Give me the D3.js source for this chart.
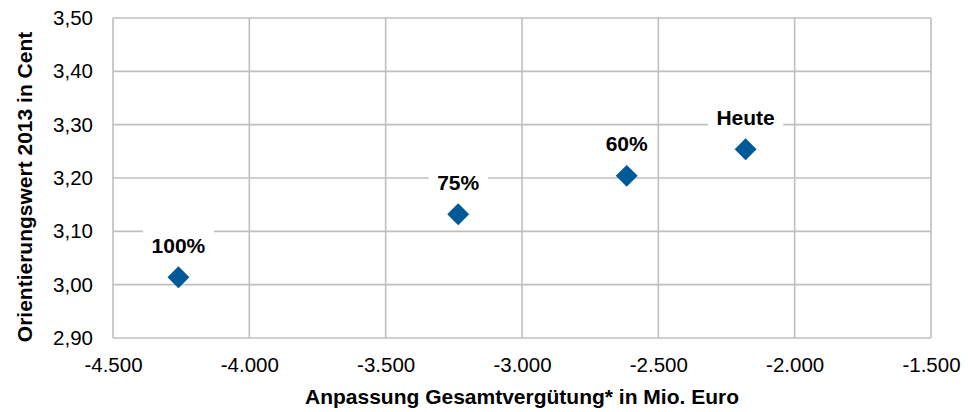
<!DOCTYPE html>
<html><head><meta charset="utf-8">
<script src="https://cdn.jsdelivr.net/npm/d3@7"></script>
<style>body{margin:0;background:#fff;} text{font-family:"Liberation Sans",Arial,sans-serif;}</style>
</head><body>
<svg id="c" width="968" height="412"></svg>
<script>
const labels = ["100%", "75%", "60%", "Heute"];
const xValues = [-4260, -3234, -2616, -2180];
const yValues = [3.014, 3.132, 3.204, 3.254];
const xTicks = [-4500, -4000, -3500, -3000, -2500, -2000, -1500];
const yTicks = [2.90, 3.00, 3.10, 3.20, 3.30, 3.40, 3.50];
const xTitle = "Anpassung Gesamtvergütung* in Mio. Euro";
const yTitle = "Orientierungswert 2013 in Cent";

const svg = d3.select("#c");
const L = 113, R = 931, T = 18, B = 338;
const x = d3.scaleLinear().domain([-4500, -1500]).range([L, R]);
const y = d3.scaleLinear().domain([2.90, 3.50]).range([B, T]);
const grid = "#bfbfbf";

const fmtX = v => d3.format(",")(v).replace(/,/g, ".").replace("−", "-");
const fmtY = v => v.toFixed(2).replace(".", ",");

// gridlines
svg.append("g").selectAll("line").data(yTicks).join("line")
  .attr("x1", L).attr("x2", R).attr("y1", d => y(d)).attr("y2", d => y(d))
  .attr("stroke", grid).attr("stroke-width", 1.6);
svg.append("g").selectAll("line").data(xTicks).join("line")
  .attr("y1", T).attr("y2", B).attr("x1", d => x(d)).attr("x2", d => x(d))
  .attr("stroke", grid).attr("stroke-width", 1.6);

// axes via d3
const xAxis = svg.append("g").attr("transform", `translate(0,${B})`)
  .call(d3.axisBottom(x).tickValues(xTicks).tickFormat(fmtX).tickSize(0).tickPadding(19));
xAxis.select(".domain").remove();
xAxis.selectAll("text").attr("font-size", 20.5).attr("fill", "#000")
  .style("font-family", "Liberation Sans, Arial, sans-serif");

const yAxis = svg.append("g").attr("transform", `translate(${L},0)`)
  .call(d3.axisLeft(y).tickValues(yTicks).tickFormat(fmtY).tickSize(0).tickPadding(20));
yAxis.select(".domain").remove();
yAxis.selectAll("text").attr("font-size", 20.5).attr("fill", "#000")
  .style("font-family", "Liberation Sans, Arial, sans-serif");

// titles
svg.append("text").attr("x", 522).attr("y", 404).attr("text-anchor", "middle")
  .attr("font-size", 21).attr("font-weight", "bold").text(xTitle);
svg.append("text").attr("transform", "translate(32,187) rotate(-90)").attr("text-anchor", "middle")
  .attr("font-size", 21).attr("font-weight", "bold").text(yTitle);

// points
const pts = labels.map((l, i) => ({l, x: xValues[i], y: yValues[i]}));
const sym = d3.symbol().type(d3.symbolSquare).size(15.5 * 15.5);
svg.append("g").selectAll("path").data(pts).join("path")
  .attr("d", sym)
  .attr("transform", d => `translate(${x(d.x)},${y(d.y)}) rotate(45)`)
  .attr("fill", "#005a98");

// labels with white boxes
const lg = svg.append("g").selectAll("g").data(pts).join("g")
  .attr("transform", d => `translate(${x(d.x)},${y(d.y) - 32})`);
lg.append("text").attr("text-anchor", "middle").attr("dy", "0.35em")
  .attr("font-size", 21).attr("font-weight", "bold").text(d => d.l)
  .each(function() {
    const b = this.getBBox();
    d3.select(this.parentNode).insert("rect", "text")
      .attr("x", b.x - 8.5).attr("y", -18).attr("width", b.width + 17).attr("height", 34)
      .attr("fill", "#fff");
  });
</script>
</body></html>
